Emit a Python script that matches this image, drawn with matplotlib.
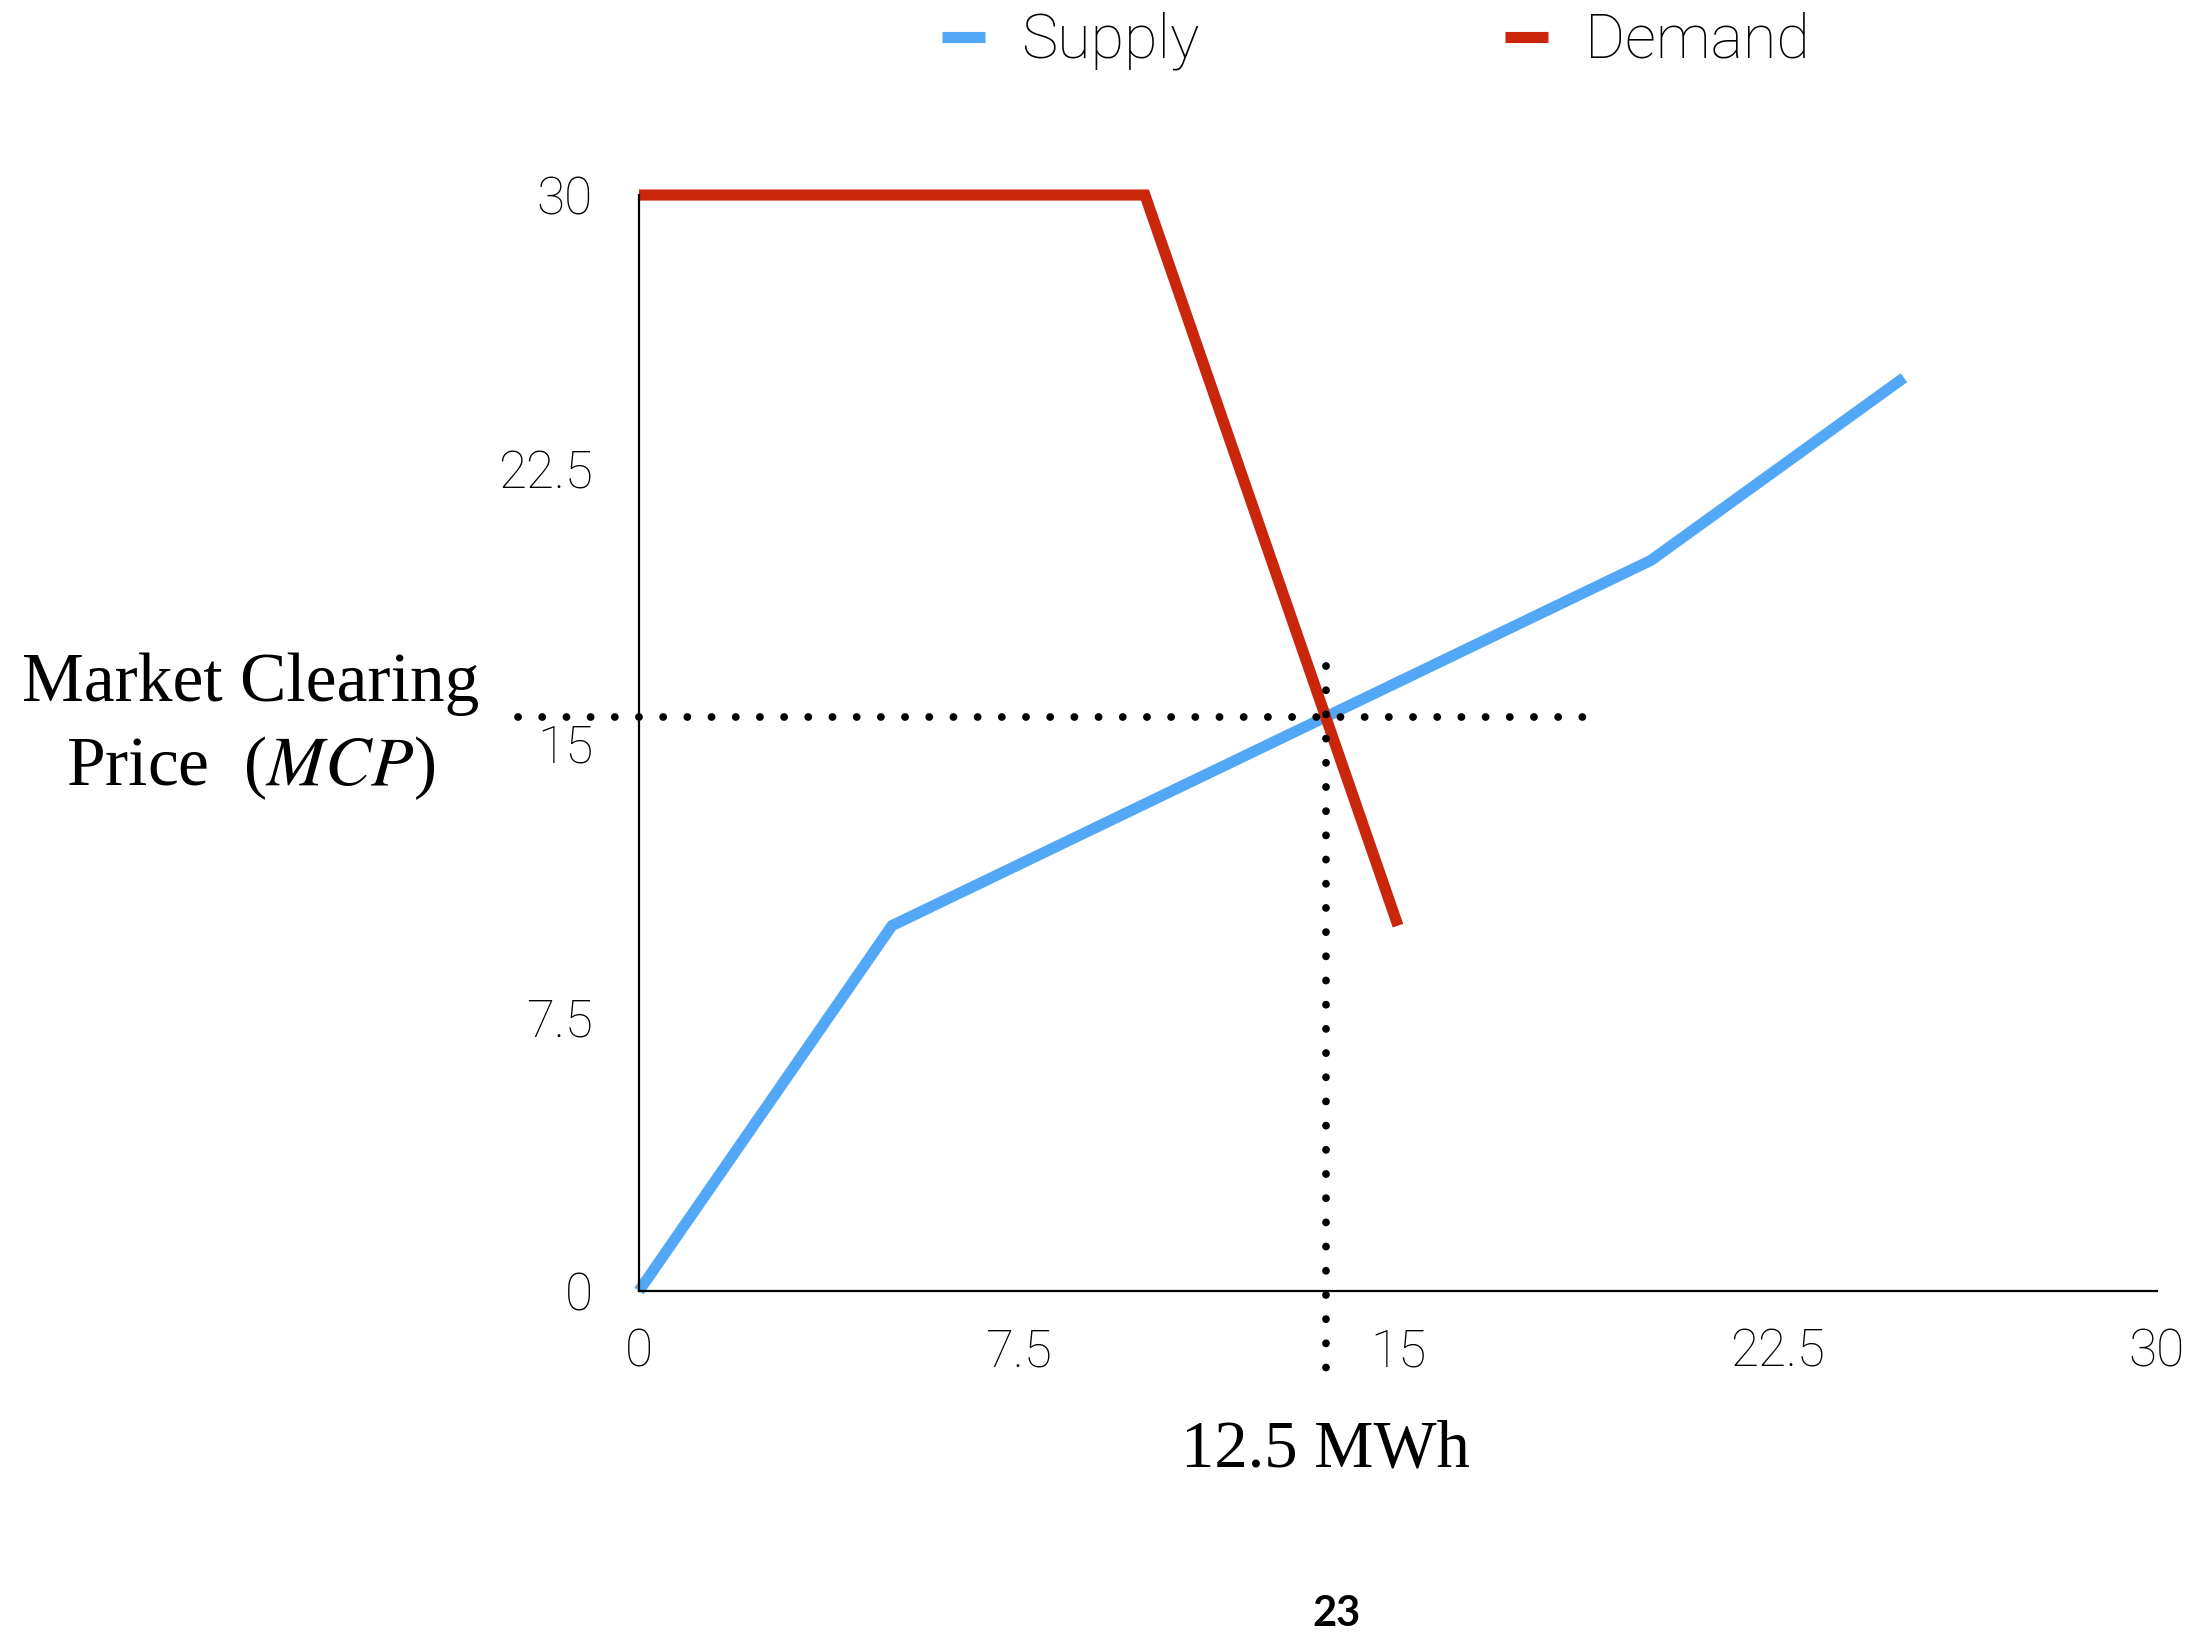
import numpy as np
import matplotlib
matplotlib.use("Agg")
import matplotlib.pyplot as plt

# piecewise linear bid curves (quantity in MWh, price)
supply_q = [0, 5, 20, 25]
supply_p = [0, 10, 20, 25]
demand_q = [0, 10, 15]
demand_p = [30, 30, 10]

tick_vals = [0, 7.5, 15, 22.5, 30]
tick_labels = ["0", "7.5", "15", "22.5", "30"]

SUPPLY_COLOR = "#52a8f7"
DEMAND_COLOR = "#c9260b"
SANS = "Roboto"
SERIF = "Liberation Serif"


def crossing(xa, ya, xb, yb):
    # find where two piecewise linear curves meet
    grid = np.linspace(max(xa[0], xb[0]), min(xa[-1], xb[-1]), 20001)
    diff = np.interp(grid, xa, ya) - np.interp(grid, xb, yb)
    i = np.where(np.diff(np.sign(diff)) != 0)[0][0]
    x0, x1 = grid[i], grid[i + 1]
    t = diff[i] / (diff[i] - diff[i + 1])
    x = x0 + t * (x1 - x0)
    return x, np.interp(x, xa, ya)


fig = plt.figure(figsize=(22.01, 16.5), dpi=100)
ax = fig.add_axes([0.2903, 0.2176, 0.6897, 0.6642])

ln_s, = ax.plot(supply_q, supply_p, color=SUPPLY_COLOR, lw=8, label="Supply",
                solid_capstyle="butt", solid_joinstyle="miter", clip_on=False)
ln_d, = ax.plot(demand_q, demand_p, color=DEMAND_COLOR, lw=8, label="Demand",
                solid_capstyle="butt", solid_joinstyle="miter", clip_on=False)

# dotted guides through the clearing point
mcq, mcp = crossing(supply_q, supply_p, demand_q, demand_p)
dot = dict(color="black", lw=5.6, linestyle=(0, (0.01, 3.1)),
           dash_capstyle="round", clip_on=False, zorder=5)
ax.plot([-2.4, 18.7], [mcp, mcp], **dot)
ax.plot([mcq, mcq], [17.1, -2.7], **dot)

ax.set_xlim(0, 30)
ax.set_ylim(0, 30)
ax.set_xticks(tick_vals)
ax.set_xticklabels(tick_labels)
ax.set_yticks(tick_vals)
ax.set_yticklabels(tick_labels)
ax.tick_params(axis="x", length=0, pad=26)
ax.tick_params(axis="y", length=0, pad=33)
for lab in ax.get_xticklabels() + ax.get_yticklabels():
    lab.set_fontfamily(SANS)
    lab.set_fontweight("light")
    lab.set_fontsize(37)
for side in ["top", "right"]:
    ax.spines[side].set_visible(False)
for side in ["left", "bottom"]:
    ax.spines[side].set_linewidth(1.6)
    ax.spines[side].set_color("black")

fig.text(0.114, 0.5855, "Market Clearing", ha="center", va="center",
         family=SERIF, fontsize=50)
fig.text(0.114, 0.5345, "Price  ($\\mathit{MCP}$)", ha="center", va="center",
         family=SERIF, fontsize=50, math_fontfamily="stix")
fig.text(0.602, 0.121, "12.5 MWh", ha="center", va="center",
         family=SERIF, fontsize=48)
fig.text(0.607, 0.022, "23", ha="center", va="center",
         family="Lato", fontweight="bold", fontsize=30)

fig.legend(handles=[ln_s, ln_d], loc="center", bbox_to_anchor=(0.625, 0.975),
           ncol=2, frameon=False, handlelength=0.7, handletextpad=0.6,
           columnspacing=5.0, prop={"family": SANS, "weight": "light", "size": 44})

fig.savefig("out.png", dpi=100, facecolor="white")
